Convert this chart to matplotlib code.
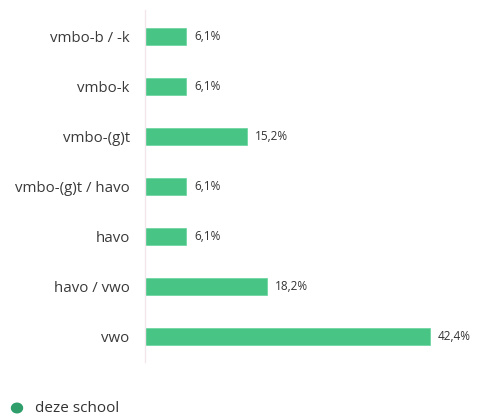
import matplotlib
matplotlib.use('Agg')
import matplotlib.pyplot as plt

CATEGORIES = ['vmbo-b / -k', 'vmbo-k', 'vmbo-(g)t', 'vmbo-(g)t / havo',
              'havo', 'havo / vwo', 'vwo']
VALUES = [6.1, 6.1, 15.2, 6.1, 6.1, 18.2, 42.4]
LABELS = ['6,1%', '6,1%', '15,2%', '6,1%', '6,1%', '18,2%', '42,4%']
SERIES = 'deze school'

plt.rcParams['font.family'] = ['Open Sans', 'DejaVu Sans']

W, H = 478, 416
fig = plt.figure(figsize=(W / 100, H / 100), dpi=100)
ax = fig.add_axes([145 / W, (H - 362) / H, (W - 145) / W, 352 / H])

y = range(len(CATEGORIES))
ax.barh(y, VALUES, height=0.34, color='#48c585', edgecolor='#6fd6a2', lw=0.6)
for yi, v, lab in zip(y, VALUES, LABELS):
    ax.text(v + 1.2, yi, lab, va='center', ha='left', fontsize=8.5, color='#333333')

ax.set_xlim(0, (W - 145) / 6.72)
ax.set_ylim(6.52, -0.52)
ax.set_xticks([])
ax.set_yticks(list(y))
ax.set_yticklabels(CATEGORIES, fontsize=10.8, color='#3a3a3a')
ax.tick_params(axis='y', length=0, pad=11)
for s in ['top', 'right', 'bottom']:
    ax.spines[s].set_visible(False)
ax.spines['left'].set_color('#f2e6ea')
ax.spines['left'].set_linewidth(1)

fig.patches.append(plt.Circle((17 / W, (H - 408) / H), 5.5 / W, transform=fig.transFigure,
                              color='#2f9e6b', figure=fig))
fig.text(35 / W, (H - 408) / H, SERIES, va='center', ha='left', fontsize=11,
         color='#333333')

fig.savefig('out.png', dpi=100)
